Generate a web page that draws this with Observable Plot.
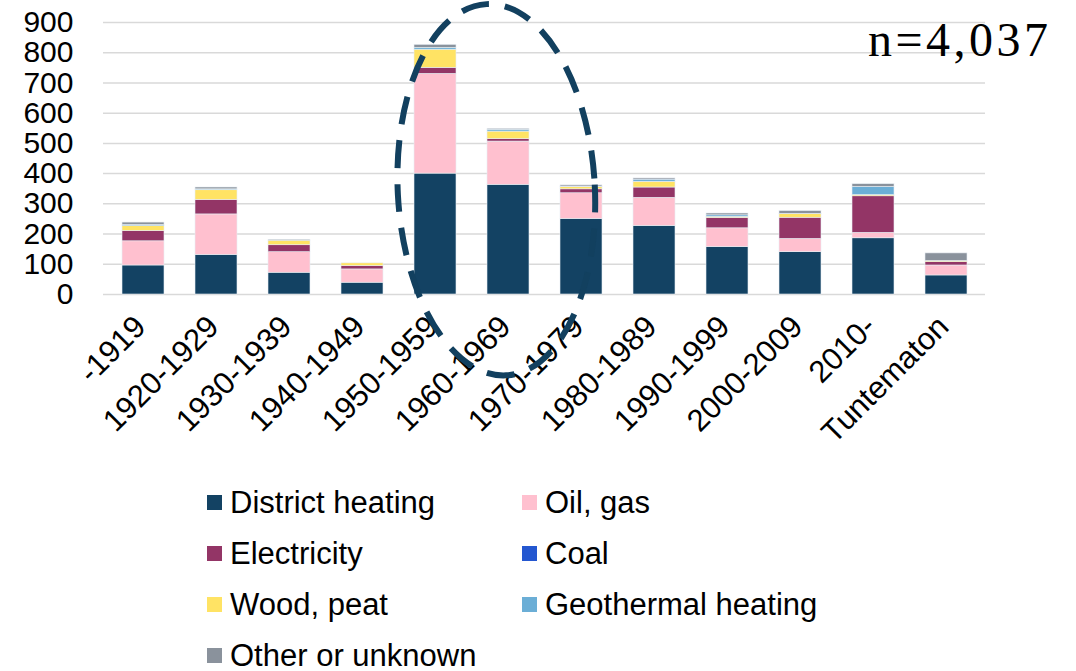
<!DOCTYPE html>
<html>
<head>
<meta charset="utf-8">
<script src="https://cdn.jsdelivr.net/npm/d3@7"></script>
<script src="https://cdn.jsdelivr.net/npm/@observablehq/plot@0.6"></script>
<style>
  html, body { margin: 0; padding: 0; background: #fff; width: 1076px; height: 671px; overflow: hidden; position: relative; font-family: Arial, "Liberation Sans", sans-serif; }
  #chart { position: absolute; left: 0; top: 0; }
  #n { position: absolute; left: 868px; top: 16px; font-family: "Times New Roman", "Liberation Serif", serif; font-size: 48px; letter-spacing: 3.5px; color: #000; line-height: 1; }
  #legend { position: absolute; left: 207px; top: 477px; display: grid; grid-template-columns: 315px 320px; grid-auto-rows: 51px; font-size: 31px; color: #000; }
  .item { display: flex; align-items: center; height: 51px; white-space: nowrap; }
  .sw { width: 15px; height: 15px; margin-right: 8px; flex: none; }
</style>
</head>
<body>
<div id="chart"></div>
<div id="n">n=4,037</div>
<div id="legend"></div>
<script>
const categories = ["-1919","1920-1929","1930-1939","1940-1949","1950-1959","1960-1969","1970-1979","1980-1989","1990-1999","2000-2009","2010-","Tuntematon"];
const seriesNames = ["District heating","Oil, gas","Electricity","Coal","Wood, peat","Geothermal heating","Other or unknown"];
const seriesColors = ["#134263","#FFC0CF","#933566","#2457D0","#FFE364","#6BAED6","#8A929C"];
const districtHeating = [96,131,72,39,400,363,250,227,157,140,186,63];
const oilGas          = [80,134,68,44,330,143,85,93,62,44,18,33];
const electricity     = [34,48,23,11,20,8,13,34,34,70,121,11];
const coal            = [0,0,0,0,0,0,0,0,0,0,0,0];
const woodPeat        = [16,32,15,9,60,25,7,19,4,12,4,4];
const geothermal      = [4,3,0,0,6,6,2,7,5,1,27,0];
const otherUnknown    = [8,6,3,0,10,3,4,4,6,9,9,25];
const yTicks = [0,100,200,300,400,500,600,700,800,900];

const seriesValues = [districtHeating, oilGas, electricity, coal, woodPeat, geothermal, otherUnknown];
const rows = [];
seriesNames.forEach((s, si) => {
  categories.forEach((c, ci) => rows.push({category: c, type: s, value: seriesValues[si][ci]}));
});

const svg = Plot.plot({
  width: 1076,
  height: 470,
  marginLeft: 103,
  marginRight: 91,
  marginTop: 22,
  marginBottom: 176,
  style: {fontFamily: 'Arial, "Liberation Sans", sans-serif', fontSize: "30px", color: "#000", background: "transparent"},
  x: {domain: categories, paddingInner: 0.43, paddingOuter: 0.215, label: null},
  y: {domain: [0, 900], label: null},
  color: {domain: seriesNames, range: seriesColors},
  marks: [
    Plot.gridY(yTicks, {stroke: "#d9d9d9", strokeOpacity: 1, strokeWidth: 1.5}),
    Plot.barY(rows, Plot.stackY({x: "category", y: "value", fill: "type", z: "type", order: seriesNames, stroke: "#e8eef3", strokeWidth: 0.6})),
    Plot.axisY(yTicks, {tickSize: 0, tickPadding: 30, fontSize: 30, label: null}),
    Plot.axisX({tickSize: 0, tickRotate: -45, tickPadding: 27, dx: -3, fontSize: 31, label: null})
  ]
});
document.getElementById("chart").appendChild(svg);

// dashed ellipse annotation placed via the plot's own scales
const xs = svg.scale("x"), ys = svg.scale("y");
const step = xs.step;
const cx = xs.apply("1950-1959") + xs.bandwidth / 2 + 0.84 * step;
const cy = ys.apply(345);
const ry = ys.apply(0) - ys.apply(615);
const rx = 1.35 * step;
d3.select(svg).append("ellipse")
  .attr("cx", cx).attr("cy", cy).attr("rx", rx).attr("ry", ry)
  .attr("fill", "none").attr("stroke", "#12405F").attr("stroke-width", 6)
  .attr("stroke-dasharray", "28 16")
  .attr("transform", `rotate(-3, ${cx}, ${cy})`);

const legend = document.getElementById("legend");
const legendOrder = [0,1,2,3,4,5,6];
legendOrder.forEach(i => {
  const d = document.createElement("div");
  d.className = "item";
  d.innerHTML = `<span class="sw" style="background:${seriesColors[i]}"></span><span>${seriesNames[i]}</span>`;
  legend.appendChild(d);
});
</script>
</body>
</html>
